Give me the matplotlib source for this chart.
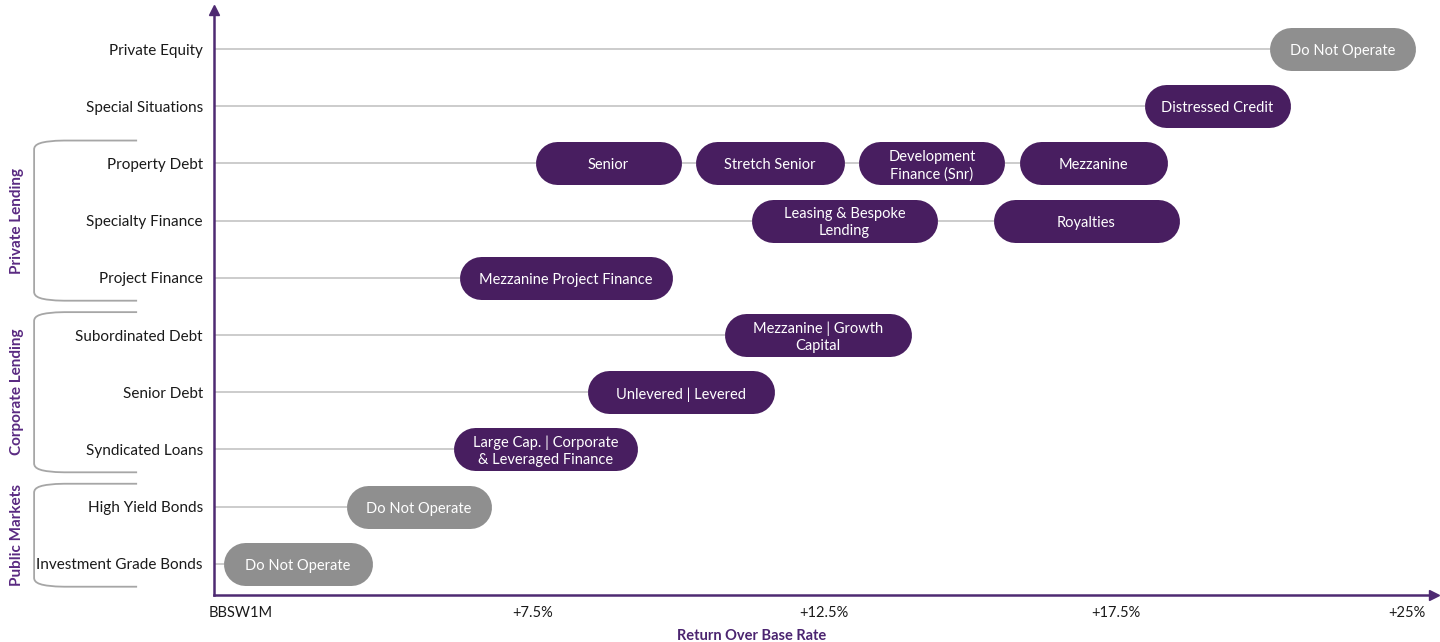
import matplotlib

matplotlib.use("Agg")
import matplotlib.pyplot as plt
from matplotlib.path import Path
from matplotlib.patches import PathPatch

plt.rcParams["font.family"] = ["Lato", "DejaVu Sans"]

# rows, top to bottom
rows = [
    "Private Equity", "Special Situations", "Property Debt", "Specialty Finance",
    "Project Finance", "Subordinated Debt", "Senior Debt", "Syndicated Loans",
    "High Yield Bonds", "Investment Grade Bonds",
]
x_ticks = ["BBSW1M", "+7.5%", "+12.5%", "+17.5%", "+25%"]

# pills: row index, label, return span (in tick steps), operate flag
pill_row = [0, 1, 2, 2, 2, 2, 3, 3, 4, 5, 6, 7, 8, 9]
pill_text = [
    "Do Not Operate", "Distressed Credit", "Senior", "Stretch Senior",
    "Development\nFinance (Snr)", "Mezzanine", "Leasing & Bespoke\nLending", "Royalties",
    "Mezzanine Project Finance", "Mezzanine | Growth\nCapital", "Unlevered | Levered",
    "Large Cap. | Corporate\n& Leveraged Finance", "Do Not Operate", "Do Not Operate",
]
pill_lo = [3.53, 3.10, 1.01, 1.56, 2.12, 2.67, 1.75, 2.58, 0.75, 1.66, 1.19, 0.73, 0.36, -0.06]
pill_hi = [4.03, 3.60, 1.51, 2.07, 2.62, 3.18, 2.39, 3.22, 1.48, 2.30, 1.83, 1.36, 0.86, 0.45]
pill_active = [False, True, True, True, True, True, True, True, True, True, True, True, False, False]

groups = ["Private Lending", "Corporate Lending", "Public Markets"]
group_first = [2, 5, 8]
group_last = [4, 7, 9]

PURPLE = "#481E60"
AXIS = "#4E2A72"
GREY_PILL = "#8F8F8F"
GUIDE = "#BFBFBF"
BRACKET = "#A6A6A6"

W, H = 1440, 642
fig = plt.figure(figsize=(W / 100, H / 100), dpi=100)
ax = fig.add_axes([214 / W, 1 - 595 / H, (1434 - 214) / W, (595 - 10) / H])
xmin, xmax = -0.093, 4.093
ymin, ymax = -0.682, 9.545
ax.set_xlim(xmin, xmax)
ax.set_ylim(ymax, ymin)

px_x = (1434 - 214) / (xmax - xmin)  # pixels per x unit
px_y = (595 - 10) / (ymax - ymin)    # pixels per row

pill_h = 43  # px
cap = pill_h / 2 / px_x

# guide lines run from the axis to the last pill in each row
for i in range(len(rows)):
    xs = [(lo + hi) / 2 for r, lo, hi in zip(pill_row, pill_lo, pill_hi) if r == i]
    ax.plot([xmin, max(xs)], [i, i], color=GUIDE, lw=1.1, zorder=1, solid_capstyle="butt")

for r, txt, lo, hi, act in zip(pill_row, pill_text, pill_lo, pill_hi, pill_active):
    c = PURPLE if act else GREY_PILL
    ax.plot([lo + cap, hi - cap], [r, r], color=c, lw=pill_h * 0.72,
            solid_capstyle="round", zorder=3)
    ax.annotate(txt, ((lo + hi) / 2, r), xytext=(0, -1.5), textcoords="offset points",
                ha="center", va="center", color="white", fontsize=10.5,
                linespacing=1.3, zorder=4)

ax.set_yticks(range(len(rows)))
ax.set_yticklabels(rows, fontsize=11, color="#1A1A1A")
ax.set_xticks(range(len(x_ticks)))
ax.set_xticklabels(x_ticks, fontsize=10.5, color="#1A1A1A")
ax.tick_params(length=0)
ax.tick_params(axis="y", pad=8)
ax.tick_params(axis="x", pad=8)

for s in ["top", "right"]:
    ax.spines[s].set_visible(False)
for s in ["left", "bottom"]:
    ax.spines[s].set_color(AXIS)
    ax.spines[s].set_linewidth(1.8)
ax.plot(1, 0, ">", ms=7, color=AXIS, transform=ax.transAxes, clip_on=False)
ax.plot(0, 1, "^", ms=7, color=AXIS, transform=ax.transAxes, clip_on=False)

# brackets for the row groups
bx_in = (137 - 241) / px_x
bx_out = (34 - 241) / px_x
for g, a, b in zip(groups, group_first, group_last):
    top, bot = a - 0.4, b + 0.4
    k = 30 / px_x
    d = 9 / px_y
    verts = [
        (bx_in, top), (bx_out + k, top),
        (bx_out + k * 0.2, top + d * 0.05), (bx_out, top + d * 0.4), (bx_out, top + d),
        (bx_out, bot - d),
        (bx_out, bot - d * 0.4), (bx_out + k * 0.2, bot - d * 0.05), (bx_out + k, bot),
        (bx_in, bot),
    ]
    codes = [Path.MOVETO, Path.LINETO, Path.CURVE4, Path.CURVE4, Path.CURVE4,
             Path.LINETO, Path.CURVE4, Path.CURVE4, Path.CURVE4, Path.LINETO]
    ax.add_patch(PathPatch(Path(verts, codes), fc="none", ec=BRACKET, lw=1.3, clip_on=False))
    ax.text((17 - 241) / px_x, (top + bot) / 2, g, rotation=90, ha="center", va="center",
            color="#5A2A82", fontsize=11, fontweight="bold", clip_on=False)

fig.text(752 / W, 1 - 636 / H, "Return Over Base Rate", ha="center", va="center",
         color="#4B2470", fontsize=10.5, fontweight="bold")

fig.savefig("out.png", dpi=100)
